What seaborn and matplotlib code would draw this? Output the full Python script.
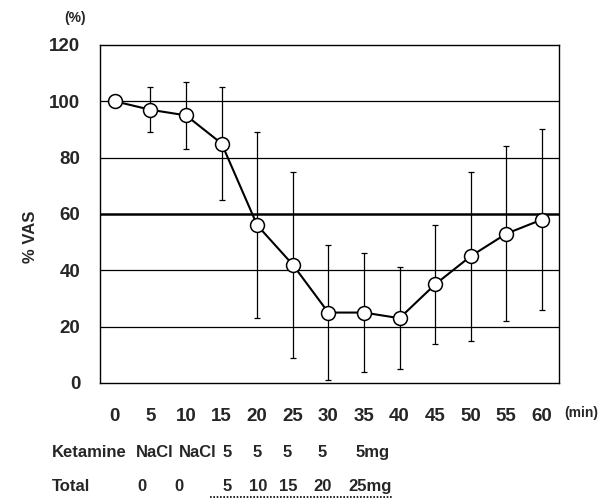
import numpy as np
import pandas as pd
import matplotlib
matplotlib.use("Agg")
import matplotlib.pyplot as plt
import seaborn as sns
from matplotlib.ticker import MultipleLocator, FixedLocator

# values
minutes = [0, 5, 10, 15, 20, 25, 30, 35, 40, 45, 50, 55, 60]
vas_mean = [100, 97, 95, 85, 56, 42, 25, 25, 23, 35, 45, 53, 58]
vas_sd = [0, 8, 12, 20, 33, 33, 24, 21, 18, 21, 30, 31, 32]

ketamine_row = ["NaCl", "NaCl", "5", "5", "5", "5", "5mg"]
total_row = ["0", "0", "5", "10", "15", "20", "25mg"]

df = pd.DataFrame({"min": minutes, "vas": vas_mean, "sd": vas_sd})

sns.set_style("white")
plt.rcParams["font.family"] = ["Liberation Sans", "DejaVu Sans"]
plt.rcParams["font.weight"] = "bold"

fig = plt.figure(figsize=(6.02, 5.03), dpi=100)
ax = fig.add_axes([0.166, 0.2386, 0.7625, 0.672])

# grid lines, 60 % drawn heavier
for g in [20, 40, 80, 100]:
    ax.axhline(g, color="black", lw=0.9, zorder=1)
ax.axhline(60, color="black", lw=1.8, zorder=1)

ax.errorbar(df["min"], df["vas"], yerr=df["sd"], fmt="none", ecolor="black",
            elinewidth=0.9, capsize=2.5, capthick=0.9, zorder=2)
sns.lineplot(data=df, x="min", y="vas", ax=ax, color="black", lw=1.5,
             marker="o", markersize=10, markerfacecolor="white",
             markeredgecolor="black", markeredgewidth=1.1, zorder=3)

ax.set_xlim(-2.1, 62.4)
ax.set_ylim(0, 120)
ax.yaxis.set_major_locator(MultipleLocator(20))
ax.xaxis.set_major_locator(MultipleLocator(5))
ax.xaxis.set_minor_locator(FixedLocator(np.arange(2.5, 60, 5)))
ax.tick_params(axis="y", length=0, labelsize=13.5, pad=14)
ax.tick_params(axis="x", which="major", length=0, labelsize=13.5, pad=18)
ax.tick_params(axis="x", which="minor", length=3, direction="in", width=0.8)
for lab in ax.get_xticklabels() + ax.get_yticklabels():
    lab.set_fontweight("bold")
ax.set_xlabel("")
ax.set_ylabel("")
for s in ax.spines.values():
    s.set_color("black")
    s.set_linewidth(1.0)

fig.text(0.125, 0.965, "(%)", fontsize=10, ha="center", va="center")
fig.text(0.05, 0.53, "% VAS", fontsize=12, rotation=90, ha="center", va="center")
fig.text(0.965, 0.178, "(min)", fontsize=10, ha="center", va="center")

# dosing rows under the axis
row_font = dict(fontsize=12, fontweight="bold", va="center")
fig.text(0.086, 0.101, "Ketamine", ha="left", **row_font)
fig.text(0.086, 0.032, "Total", ha="left", **row_font)
ket_x = [155, 198, 227, 257, 287, 322, 373]
tot_x = [142, 179, 227, 258, 288, 323, 370]
for lbl, px in zip(ketamine_row, ket_x):
    fig.text(px / 602, 0.101, lbl, ha="center", **row_font)
for lbl, px in zip(total_row, tot_x):
    fig.text(px / 602, 0.032, lbl, ha="center", **row_font)
fig.add_artist(plt.Line2D([210 / 602, 393 / 602], [0.012, 0.012], color="black",
                          lw=1.2, ls=(0, (1, 1))))

fig.savefig("out.png", dpi=100)
